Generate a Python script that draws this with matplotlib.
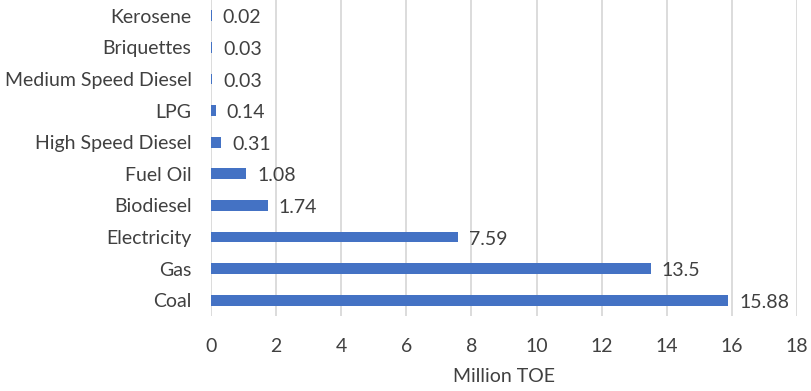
import matplotlib
matplotlib.use("Agg")
import matplotlib.pyplot as plt

categories = ["Coal", "Gas", "Electricity", "Biodiesel", "Fuel Oil",
              "High Speed Diesel", "LPG", "Medium Speed Diesel",
              "Briquettes", "Kerosene"]
values = [15.88, 13.5, 7.59, 1.74, 1.08, 0.31, 0.14, 0.03, 0.03, 0.02]
value_labels = ["15.88", "13.5", "7.59", "1.74", "1.08", "0.31", "0.14",
                "0.03", "0.03", "0.02"]
x_ticks = [0, 2, 4, 6, 8, 10, 12, 14, 16, 18]

plt.rcParams["font.family"] = ["Lato", "DejaVu Sans"]
text_color = "#404040"
fs = 14

fig = plt.figure(figsize=(8.11, 3.91), dpi=100)
ax = fig.add_axes([211 / 811, 75 / 391, 586 / 811, 316 / 391])

y = list(range(len(categories)))
ax.barh(y, values, height=0.34, color="#4472C4", zorder=3)

for yi, v, lab in zip(y, values, value_labels):
    ax.annotate(lab, (v, yi), xytext=(8, -1.5), textcoords="offset points",
                va="center", ha="left", fontsize=fs, color=text_color)

ax.set_xlim(0, 18)
ax.set_ylim(-0.5, len(categories) - 0.5)
ax.set_xticks(x_ticks)
ax.set_yticks(y)
ax.set_yticklabels(categories)
ax.tick_params(axis="both", length=0, labelsize=fs, colors=text_color)
ax.tick_params(axis="x", pad=16)
ax.tick_params(axis="y", pad=14)
ax.grid(axis="x", color="#D9D9D9", linewidth=1.3, zorder=0)
for s in ax.spines.values():
    s.set_visible(False)
ax.set_xlabel("Million TOE", fontsize=fs, color=text_color, labelpad=9)

fig.savefig("out.png", dpi=100)
